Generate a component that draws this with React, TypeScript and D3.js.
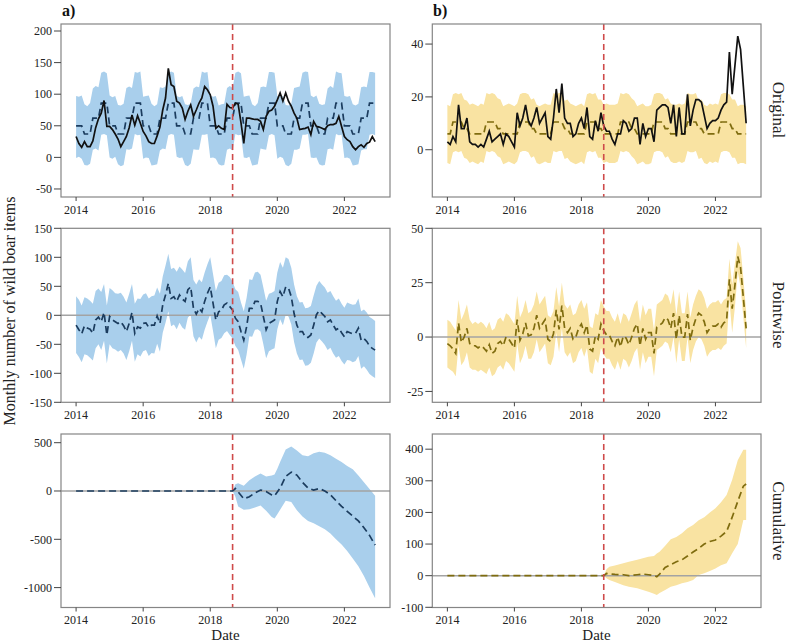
import * as d3 from 'd3';

// months Jan 2014 .. Dec 2022, intervention Sep 2018
const START_YEAR = 2014;
const INTERVENTION = 2018 + 8 / 12;
const yearTicks = [2014, 2016, 2018, 2020, 2022];

// ---- a) Original ----
const obsA = [
  33, 22, 16, 25, 17, 17, 26, 47, 61, 70, 90, 49,
  49, 44, 37, 29, 17, 25, 33, 47, 67, 51, 66, 54,
  41, 34, 25, 22, 22, 34, 48, 75, 94, 141, 115, 112,
  89, 86, 78, 60, 73, 83, 65, 75, 86, 94, 112, 107,
  99, 81, 46, 50, 46, 44, 84, 79, 78, 86, 84, 55,
  22, 62, 62, 61, 60, 60, 57, 44, 65, 73, 75, 81,
  91, 102, 89, 102, 89, 81, 70, 62, 44, 45, 46, 48,
  36, 57, 49, 48, 46, 44, 50, 52, 52, 54, 65, 49,
  33, 28, 25, 17, 12, 17, 20, 16, 22, 24, 33, 25,
];
const predA = [
  50, 50, 50, 37, 37, 37, 62, 62, 62, 86, 86, 86,
  50, 50, 50, 37, 37, 37, 62, 62, 62, 86, 86, 86,
  50, 50, 50, 37, 37, 37, 62, 62, 62, 86, 86, 86,
  50, 50, 50, 37, 37, 37, 62, 62, 62, 86, 86, 86,
  50, 50, 50, 37, 37, 37, 62, 62, 62, 86, 86, 86,
  50, 50, 50, 37, 37, 37, 62, 62, 62, 86, 86, 86,
  50, 50, 50, 37, 37, 37, 62, 62, 62, 86, 86, 86,
  50, 50, 50, 37, 37, 37, 62, 62, 62, 86, 86, 86,
  50, 50, 50, 37, 37, 37, 62, 62, 62, 86, 86, 86,
];
const hiA = [
  97, 96, 98, 84, 81, 86, 109, 113, 111, 134, 136, 133,
  98, 95, 97, 83, 82, 85, 110, 112, 110, 135, 134, 136,
  96, 97, 98, 85, 81, 84, 111, 110, 112, 133, 136, 134,
  97, 95, 97, 84, 83, 85, 109, 112, 111, 136, 134, 135,
  98, 96, 97, 82, 84, 85, 110, 113, 110, 134, 136, 133,
  96, 97, 98, 84, 81, 86, 111, 112, 111, 135, 135, 134,
  97, 96, 97, 83, 82, 85, 110, 111, 112, 134, 136, 135,
  98, 95, 98, 85, 83, 84, 109, 113, 110, 136, 134, 133,
  97, 96, 97, 84, 82, 85, 111, 112, 111, 135, 135, 134,
];
const loA = [
  -1, 1, -2, -12, -13, -10, 12, 14, 11, 36, 37, 35,
  0, -2, 1, -11, -14, -12, 13, 12, 14, 37, 35, 36,
  -2, 0, -1, -13, -12, -11, 11, 14, 13, 35, 37, 36,
  1, -1, 0, -12, -14, -10, 13, 12, 12, 36, 36, 37,
  -1, 0, -2, -11, -13, -12, 12, 14, 11, 37, 35, 36,
  0, -1, 1, -13, -12, -11, 14, 13, 12, 35, 37, 35,
  -2, 1, -1, -12, -14, -10, 12, 12, 14, 36, 36, 37,
  0, -1, 0, -11, -13, -12, 13, 14, 12, 37, 35, 36,
  -1, 0, -2, -13, -12, -11, 11, 13, 13, 36, 37, 35,
];

// ---- b) Original ----
const obsB = [
  3, 2, 5, 3, 17, 8, 8, 12, 3, 2, 2, 1,
  2, 1, 4, 7, 3, 4, 5, 6, 2, 6, 5, 3,
  1, 14, 9, 12, 17, 11, 9, 12, 16, 10, 12, 14,
  5, 4, 12, 23, 14, 25, 12, 10, 10, 5, 6, 10,
  12, 8, 16, 5, 4, 11, 7, 14, 9, 7, 7, 4,
  2, 6, 6, 11, 10, 7, 8, 12, 12, 2, 10, 5,
  8, 8, 3, 15, 16, 17, 17, 16, 10, 17, 5, 16,
  6, 6, 21, 9, 15, 19, 19, 18, 13, 8, 10, 11,
  11, 12, 15, 17, 18, 37, 21, 32, 43, 38, 24, 10,
];
const predB = [
  6, 6, 10.5, 10.5, 10.5, 10.5, 8, 8, 6, 6, 6, 6,
  6, 6, 10.5, 10.5, 10.5, 10.5, 8, 8, 6, 6, 6, 6,
  6, 6, 10.5, 10.5, 10.5, 10.5, 8, 8, 6, 6, 6, 6,
  6, 6, 10.5, 10.5, 10.5, 10.5, 8, 8, 6, 6, 6, 6,
  6, 6, 10.5, 10.5, 10.5, 10.5, 8, 8, 6, 6, 6, 6,
  6, 6, 10.5, 10.5, 10.5, 10.5, 8, 8, 6, 6, 6, 6,
  6, 6, 10.5, 10.5, 10.5, 10.5, 8, 8, 6, 6, 6, 6,
  6, 6, 10.5, 10.5, 10.5, 10.5, 8, 8, 6, 6, 6, 6,
  6, 6, 10.5, 10.5, 10.5, 10.5, 8, 8, 6, 6, 6, 6,
];
const hiB = [
  17, 16.5, 21, 21.5, 21, 21.5, 19, 18.5, 17, 17.5, 17, 16.5,
  17.5, 17, 21.5, 21, 21.5, 21, 19.5, 19, 16.5, 17, 17.5, 17,
  16.5, 17.5, 21, 21.5, 21.5, 21, 19, 19.5, 17, 16.5, 17, 17.5,
  17, 17, 21.5, 21, 21.5, 21.5, 18.5, 19, 17.5, 17, 16.5, 17,
  17.5, 16.5, 21, 21.5, 21, 21.5, 19, 19, 17, 17.5, 17, 17,
  17, 17.5, 21.5, 21, 21.5, 21, 19.5, 18.5, 16.5, 17, 17.5, 16.5,
  16.5, 17, 21, 21.5, 21.5, 21, 19, 19.5, 17.5, 17, 17, 17.5,
  17, 17.5, 21.5, 21, 21, 21.5, 18.5, 19, 17, 16.5, 17.5, 17,
  17.5, 17, 21, 21.5, 21.5, 21, 19, 19, 16.5, 17, 17, 16.5,
];
const loB = [
  -5, -5.5, -1, -0.5, -1, -0.5, -3, -3.5, -5, -4.5, -5, -5.5,
  -4.5, -5, -0.5, -1, -0.5, -1, -2.5, -3, -5.5, -5, -4.5, -5,
  -5.5, -4.5, -1, -0.5, -0.5, -1, -3, -2.5, -5, -5.5, -5, -4.5,
  -5, -5, -0.5, -1, -0.5, -0.5, -3.5, -3, -4.5, -5, -5.5, -5,
  -4.5, -5.5, -1, -0.5, -1, -0.5, -3, -3, -5, -4.5, -5, -5,
  -5, -4.5, -0.5, -1, -0.5, -1, -2.5, -3.5, -5.5, -5, -4.5, -5.5,
  -5.5, -5, -1, -0.5, -0.5, -1, -3, -2.5, -4.5, -5, -5, -4.5,
  -5, -4.5, -0.5, -1, -1, -0.5, -3.5, -3, -5, -5.5, -4.5, -5,
  -4.5, -5, -1, -0.5, -0.5, -1, -3, -3, -5.5, -5, -5, -5.5,
];

// ---- a) Pointwise ----
const pwA = [
  -17, -25, -32, -18, -22, -24, -31, -8, -3, -11, 5, -34,
  -2, -8, -11, -14, -11, -18, -28, -14, 5, -31, -20, -22,
  -14, -13, -21, -17, -17, -1, -14, 18, 35, 55, 29, 32,
  24, 35, 28, 24, 44, 49, 12, 2, 12, 6, 24, 38,
  49, 21, -8, 6, 9, 18, 21, 15, 9, -5, -11, -28,
  -43, -20, 12, 12, 24, 24, 21, -2, -25, -14, -11, -8,
  24, 41, 32, 49, 47, 32, 3, -17, -28, -28, -38, -38,
  -34, -17, 1, 8, 3, -2, -11, -8, -17, -25, -22, -30,
  -37, -28, -30, -32, -31, -22, -43, -40, -45, -53, -57, -60,
];
const pwHiA = [
  33, 27, 17, 31, 29, 25, 20, 42, 46, 40, 54, 17,
  47, 43, 38, 37, 39, 32, 22, 37, 54, 20, 29, 28,
  36, 38, 29, 33, 34, 48, 37, 67, 86, 106, 80, 82,
  75, 84, 79, 73, 93, 100, 61, 53, 62, 57, 74, 88,
  100, 71, 42, 56, 59, 69, 70, 66, 58, 45, 40, 22,
  7, 30, 62, 61, 74, 75, 70, 48, 25, 37, 39, 42,
  74, 92, 82, 100, 97, 82, 53, 33, 22, 23, 12, 13,
  16, 34, 51, 59, 53, 48, 39, 42, 33, 25, 29, 20,
  13, 22, 20, 18, 19, 29, 7, 10, 5, -3, -6, -10,
];
const pwLoA = [
  -65, -72, -81, -67, -69, -73, -78, -57, -50, -60, -44, -83,
  -50, -57, -59, -63, -60, -66, -77, -62, -44, -80, -67, -71,
  -62, -60, -70, -65, -66, -49, -63, -30, -13, 7, -19, -16,
  -24, -13, -21, -25, -4, 1, -36, -47, -37, -42, -25, -11,
  1, -27, -57, -42, -39, -31, -27, -34, -40, -53, -60, -76,
  -92, -68, -36, -37, -25, -24, -28, -50, -74, -62, -59, -57,
  -24, -7, -17, 1, -2, -16, -46, -66, -77, -76, -87, -86,
  -82, -66, -47, -40, -45, -51, -60, -56, -66, -73, -70, -79,
  -85, -77, -78, -81, -79, -70, -92, -88, -94, -101, -105, -108,
];

// ---- b) Pointwise ----
const pwB = [
  -3, -4, -5.5, -7.5, 6.5, -2.5, 0, 4, -3, -4, -4, -5,
  -4, -5, -6.5, -3.5, -7.5, -6.5, -3, -2, -4, 0, -1, -3,
  -5, 8, -1.5, 1.5, 6.5, 0.5, 1, 4, 10, 4, 6, 8,
  -1, -2, 1.5, 12.5, 3.5, 14.5, 4, 2, 4, -1, 0, 4,
  6, 2, 5.5, -5.5, -6.5, 0.5, -1, 6, 3, 1, 1, -2,
  -4, 0, -4.5, 0.5, -0.5, -3.5, 0, 4, 6, -4, 4, -1,
  2, 2, -7.5, 4.5, 5.5, 6.5, 9, 8, 4, 11, -1, 10,
  0, 0, 10.5, -1.5, 4.5, 8.5, 11, 10, 7, 2, 4, 5,
  5, 6, 4.5, 6.5, 7.5, 26.5, 13, 24, 37, 32, 18, 4,
];
const pwHiB = [
  8, 7, 5, 3, 17, 8, 11, 15, 8, 6, 7, 6,
  7, 6, 4, 7, 3, 4, 8, 9, 7, 11, 10, 8,
  6, 19, 9, 12, 17, 11, 12, 15, 21, 15, 17, 19,
  10, 9, 12, 23, 14, 25, 15, 13, 15, 10, 11, 15,
  17, 13, 16, 5, 4, 11, 10, 17, 14, 12, 12, 9,
  7, 11, 6, 11, 10, 7, 11, 15, 17, 7, 15, 10,
  13, 13, 3, 15, 16, 17, 20, 19, 15, 22, 10, 21,
  11, 11, 21, 9, 15, 19, 22, 21, 18, 13, 15, 16,
  16, 17, 15, 17, 18, 36, 24, 34, 44, 41, 27, 12,
];
const pwLoB = [
  -14, -15, -16, -18, -4, -13, -11, -7, -14, -15, -15, -16,
  -15, -16, -17, -14, -18, -17, -14, -13, -15, -11, -12, -14,
  -16, -3, -12, -9, -4, -10, -10, -7, -1, -7, -5, -3,
  -12, -13, -9, 2, -7, 4, -7, -9, -7, -12, -11, -7,
  -5, -9, -5, -16, -17, -10, -12, -5, -8, -10, -10, -13,
  -15, -11, -15, -10, -11, -14, -11, -7, -5, -15, -7, -12,
  -9, -9, -18, -6, -5, -4, -2, -3, -7, 0, -12, -1,
  -11, -11, 0, -12, -6, -2, 0, -1, -4, -9, -7, -6,
  -6, -5, -6, -4, -3, 17, 2, 14, 30, 23, 9, -5,
];

// ---- a) Cumulative (month index since Jan 2014) ----
const cumMonthsA = [0, 56, 57, 58, 60, 62, 64, 66, 68, 70, 71, 72, 73, 75, 77, 79, 81, 83, 85, 87, 89, 91, 93, 95, 97, 99, 101, 103, 105, 107];
const cumA = [0, 0, 25, -10, -80, -60, -20, 10, -5, -40, -50, -10, 30, 150, 195, 165, 90, 30, 10, 25, 0, -40, -100, -160, -210, -260, -310, -380, -460, -560];
const cumLoA = [0, 0, -60, -160, -195, -190, -170, -150, -205, -270, -285, -240, -195, -100, -115, -200, -265, -310, -335, -365, -395, -440, -500, -555, -620, -700, -780, -880, -1000, -1110];
const cumHiA = [0, 0, 70, 80, 55, 110, 150, 180, 150, 160, 170, 230, 300, 430, 460, 420, 370, 360, 390, 405, 395, 370, 335, 300, 260, 225, 160, 90, 20, -50];

// ---- b) Cumulative ----
const cumMonthsB = [0, 56, 57, 58, 60, 63, 65, 68, 70, 72, 74, 75, 76, 78, 80, 82, 84, 86, 88, 90, 92, 94, 96, 98, 100, 102, 104, 106, 107];
const cumB = [0, 0, 7, 6, 4, 3, 0, 3, 5, 3, 1, -3, 5, 26, 35, 44, 50, 62, 75, 86, 100, 108, 113, 125, 140, 185, 235, 283, 290];
const cumLoB = [0, 0, -8, -14, -20, -30, -35, -40, -45, -51, -57, -61, -55, -45, -35, -30, -24, -20, -14, 2, 8, 15, 23, 33, 39, 71, 100, 176, 176];
const cumHiB = [0, 0, 20, 28, 32, 39, 44, 50, 55, 60, 62, 70, 76, 95, 115, 122, 134, 150, 160, 175, 185, 200, 213, 232, 255, 303, 365, 398, 398];

const FONT = '"Liberation Serif", "Times New Roman", serif';
const BLUE_FILL = '#a9cfec';
const BLUE_LINE = '#1b3c5e';
const YEL_FILL = '#f9e3a2';
const YEL_LINE = '#7f6c0f';
const RED = '#cf4a4a';

const monthToYear = (m: number) => START_YEAR + m / 12;

interface PanelProps {
  left: number;
  top: number;
  width: number;
  height: number;
  yDomain: [number, number];
  yTicks: number[];
  months: number[];
  lo: number[];
  hi: number[];
  mean: number[];
  obs?: number[];
  fill: string;
  meanColor: string;
  zeroLine?: boolean;
}

const Panel = (p: PanelProps) => {
  const x = d3.scaleLinear().domain([2013.55, 2023.36]).range([p.left, p.left + p.width]);
  const y = d3.scaleLinear().domain(p.yDomain).range([p.top + p.height, p.top]);
  const idx = p.months.map((_, i) => i);
  const tx = (i: number) => x(monthToYear(p.months[i]));

  const band = d3.area<number>()
    .x(tx)
    .y0(i => y(p.lo[i]))
    .y1(i => y(p.hi[i]))(idx) || undefined;
  const meanPath = d3.line<number>().x(tx).y(i => y(p.mean[i]))(idx) || undefined;
  const obsPath = p.obs ? d3.line<number>().x(tx).y(i => y(p.obs![i]))(idx) || undefined : undefined;
  const bottom = p.top + p.height;

  return (
    <g>
      <path d={band} fill={p.fill} stroke="none" />
      {p.zeroLine && (
        <line x1={p.left} x2={p.left + p.width} y1={y(0)} y2={y(0)} stroke="#a3a3a3" strokeWidth={1.4} />
      )}
      <path d={meanPath} fill="none" stroke={p.meanColor} strokeWidth={1.7} strokeDasharray="7,4" />
      {obsPath && <path d={obsPath} fill="none" stroke="#111" strokeWidth={1.7} />}
      <line x1={x(INTERVENTION)} x2={x(INTERVENTION)} y1={p.top} y2={bottom}
        stroke={RED} strokeWidth={1.6} strokeDasharray="6,4" />
      <rect x={p.left} y={p.top} width={p.width} height={p.height} fill="none" stroke="#858585" strokeWidth={1.2} />

      {/* y axis */}
      {p.yTicks.map(v => (
        <g key={v} transform={`translate(${p.left}, ${y(v)})`}>
          <line x1={-7} x2={0} stroke="#444" strokeWidth={1} />
          <text x={-9} dy="0.35em" textAnchor="end" fontSize={12} fill="#222">{v}</text>
        </g>
      ))}

      {/* x axis */}
      {yearTicks.map(v => (
        <g key={v} transform={`translate(${x(v)}, ${bottom})`}>
          <line y1={0} y2={4} stroke="#444" strokeWidth={1} />
          <text y={16.5} textAnchor="middle" fontSize={12} fill="#222">{v}</text>
        </g>
      ))}
    </g>
  );
};

const App = () => {
  const monthly = obsA.map((_, i) => i);
  const colA = { left: 61, width: 329 };
  const colB = { left: 432.3, width: 328.7 };
  const rows = [
    { top: 24, height: 173 },
    { top: 228.3, height: 174 },
    { top: 434, height: 173.5 },
  ];

  return (
    <svg width={788} height={641} style={{ position: 'absolute', left: 0, top: 0, fontFamily: FONT, background: '#fff' }}>
      <Panel {...colA} {...rows[0]} yDomain={[-62.7, 211.1]} yTicks={[-50, 0, 50, 100, 150, 200]}
        months={monthly} lo={loA} hi={hiA} mean={predA} obs={obsA} fill={BLUE_FILL} meanColor={BLUE_LINE} />
      <Panel {...colB} {...rows[0]} yDomain={[-17.9, 47.6]} yTicks={[0, 20, 40]}
        months={monthly} lo={loB} hi={hiB} mean={predB} obs={obsB} fill={YEL_FILL} meanColor={YEL_LINE} />

      <Panel {...colA} {...rows[1]} yDomain={[-150, 150]} yTicks={[-150, -100, -50, 0, 50, 100, 150]}
        months={monthly} lo={pwLoA} hi={pwHiA} mean={pwA} fill={BLUE_FILL} meanColor={BLUE_LINE} zeroLine />
      <Panel {...colB} {...rows[1]} yDomain={[-30, 50]} yTicks={[-25, 0, 25, 50]}
        months={monthly} lo={pwLoB} hi={pwHiB} mean={pwB} fill={YEL_FILL} meanColor={YEL_LINE} zeroLine />

      <Panel {...colA} {...rows[2]} yDomain={[-1206, 590]} yTicks={[-1000, -500, 0, 500]}
        months={cumMonthsA} lo={cumLoA} hi={cumHiA} mean={cumA} fill={BLUE_FILL} meanColor={BLUE_LINE} zeroLine />
      <Panel {...colB} {...rows[2]} yDomain={[-100.6, 448]} yTicks={[-100, 0, 100, 200, 300, 400]}
        months={cumMonthsB} lo={cumLoB} hi={cumHiB} mean={cumB} fill={YEL_FILL} meanColor={YEL_LINE} zeroLine />

      {/* panel letters */}
      <text x={62} y={16} fontSize={16} fontWeight="bold" fill="#111">a)</text>
      <text x={433} y={16} fontSize={16} fontWeight="bold" fill="#111">b)</text>

      {/* axis titles */}
      <text transform="translate(15, 311) rotate(-90)" textAnchor="middle" fontSize={16} fill="#222">
        Monthly number of wild boar items
      </text>
      <text x={225.5} y={639.5} textAnchor="middle" fontSize={15} fill="#222">Date</text>
      <text x={596.5} y={639.5} textAnchor="middle" fontSize={15} fill="#222">Date</text>

      {/* row labels */}
      <text transform="translate(773, 110) rotate(90)" textAnchor="middle" fontSize={17} fill="#222">Original</text>
      <text transform="translate(773, 315) rotate(90)" textAnchor="middle" fontSize={17} fill="#222">Pointwise</text>
      <text transform="translate(773, 521) rotate(90)" textAnchor="middle" fontSize={17} fill="#222">Cumulative</text>
    </svg>
  );
};

export default App;
